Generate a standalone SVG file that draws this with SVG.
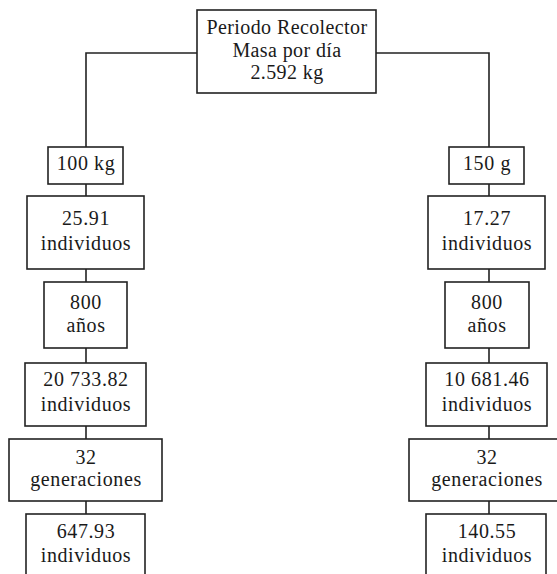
<svg xmlns="http://www.w3.org/2000/svg" width="557" height="574" viewBox="0 0 557 574">
<style>
.box{fill:#fff;stroke:#222;stroke-width:1.6}
.ln{fill:none;stroke:#222;stroke-width:1.6}
text{font-family:"Liberation Serif","Times New Roman",serif;font-size:20px;fill:#1a1a1a;text-anchor:middle;letter-spacing:0.6px}
.top{letter-spacing:0.4px}
</style>
<rect width="557" height="574" fill="#fff"/>
<g id="connectors">
<path class="ln" d="M197,53 H86 V147"/>
<path class="ln" d="M376,53 H489 V147"/>
<path class="ln" d="M86,184 V196 M86,269 V282 M86,348 V363 M86,426 V439 M86,501 V514"/>
<path class="ln" d="M489,184 V196 M489,269 V282 M489,348 V363 M489,426 V439 M489,501 V514"/>
</g>
<g id="root">
<rect class="box" x="197" y="10" width="179" height="83"/>
<text class="top" x="287" y="34">Periodo Recolector</text>
<text class="top" x="287" y="57">Masa por día</text>
<text class="top" x="287" y="79">2.592 kg</text>
</g>
<g id="l1">
<rect class="box" x="48" y="147" width="75" height="37"/>
<text x="86" y="170">100 kg</text>
</g>
<g id="l2">
<rect class="box" x="27" y="196" width="117" height="73"/>
<text x="86" y="225">25.91</text>
<text x="86" y="250">individuos</text>
</g>
<g id="l3">
<rect class="box" x="44" y="282" width="83" height="66"/>
<text x="86" y="309">800</text>
<text x="86" y="332">años</text>
</g>
<g id="l4">
<rect class="box" x="25" y="363" width="121" height="63"/>
<text x="86" y="386">20 733.82</text>
<text x="86" y="411">individuos</text>
</g>
<g id="l5">
<rect class="box" x="9" y="439" width="153" height="62"/>
<text x="86" y="464">32</text>
<text x="86" y="486">generaciones</text>
</g>
<g id="l6">
<rect class="box" x="26" y="514" width="119" height="70"/>
<text x="86" y="538">647.93</text>
<text x="86" y="562">individuos</text>
</g>
<g id="r1">
<rect class="box" x="449" y="147" width="75" height="37"/>
<text x="487" y="170">150 g</text>
</g>
<g id="r2">
<rect class="box" x="428" y="196" width="117" height="73"/>
<text x="487" y="225">17.27</text>
<text x="487" y="250">individuos</text>
</g>
<g id="r3">
<rect class="box" x="445" y="282" width="84" height="66"/>
<text x="487" y="309">800</text>
<text x="487" y="332">años</text>
</g>
<g id="r4">
<rect class="box" x="426" y="363" width="121" height="63"/>
<text x="487" y="386">10 681.46</text>
<text x="487" y="411">individuos</text>
</g>
<g id="r5">
<rect class="box" x="409" y="439" width="160" height="62"/>
<text x="487" y="464">32</text>
<text x="487" y="486">generaciones</text>
</g>
<g id="r6">
<rect class="box" x="426" y="514" width="120" height="70"/>
<text x="487" y="538">140.55</text>
<text x="487" y="562">individuos</text>
</g>
</svg>
